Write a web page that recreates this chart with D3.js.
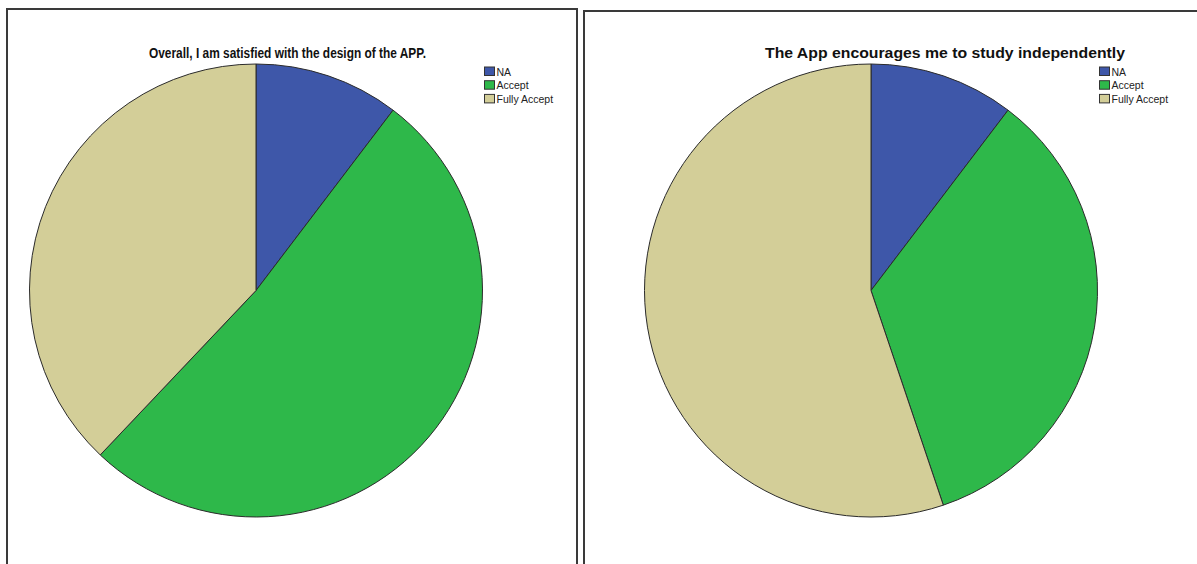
<!DOCTYPE html>
<html>
<head>
<meta charset="utf-8">
<script src="https://cdn.jsdelivr.net/npm/d3@7"></script>
<style>
  html, body { margin: 0; padding: 0; background: #fff; }
  svg { display: block; }
</style>
</head>
<body>
<svg id="chart" width="1197" height="564"></svg>
<script>
// Response categories shared by both survey items
const categories = ["NA", "Accept", "Fully Accept"];
const colors = ["#3e57a9", "#2eb84a", "#d3ce98"];

// Response counts per item (n = 29)
const designCounts = [3, 15, 11];
const independentCounts = [3, 10, 16];

const titles = [
  "Overall, I am satisfied with the design of the APP.",
  "The App encourages me to study independently"
];

const svg = d3.select("#chart");

const panels = [
  { x: 7, y: 9, w: 570, h: 600, cx: 256, cy: 290.5, title: titles[0], titleX: 287.5, titleW: 277, counts: designCounts, legX: 484 },
  { x: 584, y: 11, w: 700, h: 600, cx: 871, cy: 290.5, title: titles[1], titleX: 945, titleW: 360, counts: independentCounts, legX: 1099 }
];

const radius = 226.5;
const pie = d3.pie().sort(null).value(d => d);
const arc = d3.arc().innerRadius(0).outerRadius(radius);
const color = d3.scaleOrdinal().domain(categories).range(colors);

panels.forEach(p => {
  // frame
  svg.append("rect")
    .attr("x", p.x).attr("y", p.y)
    .attr("width", p.w).attr("height", p.h)
    .attr("fill", "none")
    .attr("stroke", "#3a3a3a")
    .attr("stroke-width", 2);

  // title
  svg.append("text")
    .attr("x", p.titleX).attr("y", 58)
    .attr("text-anchor", "middle")
    .attr("font-family", "Liberation Sans, Arial, sans-serif")
    .attr("font-weight", "bold")
    .attr("font-size", 14.5)
    .attr("fill", "#111")
    .attr("textLength", p.titleW)
    .attr("lengthAdjust", "spacingAndGlyphs")
    .text(p.title);

  // pie
  const g = svg.append("g").attr("transform", `translate(${p.cx},${p.cy})`);
  g.selectAll("path")
    .data(pie(p.counts))
    .join("path")
    .attr("d", arc)
    .attr("fill", (d, i) => color(categories[i]))
    .attr("stroke", "#2b2b2b")
    .attr("stroke-width", 1)
    .attr("stroke-linejoin", "round");

  // legend
  const leg = svg.append("g").attr("transform", `translate(${p.legX},66.5)`);
  categories.forEach((c, i) => {
    const row = leg.append("g").attr("transform", `translate(0,${i * 13.7})`);
    row.append("rect")
      .attr("x", 0.5).attr("y", 0.5)
      .attr("width", 10).attr("height", 8.5)
      .attr("fill", color(c))
      .attr("stroke", "#333")
      .attr("stroke-width", 1);
    row.append("text")
      .attr("x", 12.5).attr("y", 9)
      .attr("font-family", "Liberation Sans, Arial, sans-serif")
      .attr("font-size", 10.5)
      .attr("fill", "#222")
      .text(c);
  });
});
</script>
</body>
</html>
